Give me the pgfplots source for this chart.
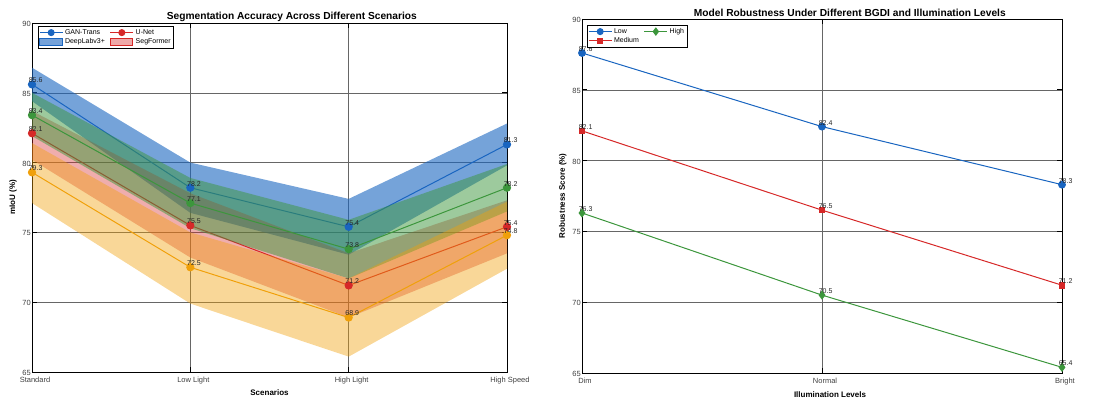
\documentclass[border=0pt]{standalone}
\usepackage{fontspec}
\setmainfont{Liberation Sans}
\usepackage{pgfplots}
\pgfplotsset{compat=1.18}
\definecolor{cB}{RGB}{25,101,192}
\definecolor{cR}{RGB}{214,40,40}
\definecolor{cG}{RGB}{60,150,60}
\definecolor{cO}{RGB}{240,160,10}
\pgfplotsset{
  myax/.style={
    scale only axis, clip=false,
    ymin=65, ymax=90, ytick={65,70,75,80,85,90},
    grid=major, major grid style={black!60, line width=0.5pt},
    axis line style={black, line width=0.8pt},
    tick align=inside, major tick length=5pt, tick style={black, line width=0.6pt},
    /pgf/number format/assume math mode=true,
    tick label style={font=\fontsize{7.5}{9}\selectfont, text=black!75},
    yticklabel style={anchor=east, inner sep=1pt, yshift=-1pt},
    xticklabel style={anchor=north, inner sep=1pt, yshift=-4pt, xshift=3pt},
    title style={font=\bfseries\fontsize{10.2}{11}\selectfont, anchor=center, yshift=0pt},
    every axis y label/.style={at={(axis description cs:-0.04,0.5)}, rotate=90, anchor=center, font=\bfseries\fontsize{8}{9}\selectfont},
    every axis x label/.style={at={(axis description cs:0.5,-0.06)}, anchor=center, font=\bfseries\fontsize{8}{9}\selectfont},
    legend cell align=left,
    legend style={draw=black, line width=0.6pt, fill=white, inner sep=1pt, font=\fontsize{7}{8}\selectfont, row sep=-1.5pt, /tikz/every even column/.append style={column sep=3pt}},
    legend image code/.code={\draw[mark repeat=2,mark phase=2,##1] plot coordinates {(0cm,0cm) (0.4cm,0cm) (0.8cm,0cm)};},
    nodes near coords={\pgfmathprintnumber[fixed,fixed zerofill,precision=1]{\pgfplotspointmeta}},
    every node near coord/.append style={anchor=south west, inner sep=0pt, xshift=-3.7pt, yshift=1pt, font=\fontsize{7}{8}\selectfont, text=black!85},
  },
  bluepatch/.style={legend image code/.code={\fill[cB,fill opacity=0.6] (0cm,-0.12cm) rectangle (0.78cm,0.12cm);}},
  pinkpatch/.style={legend image code/.code={\fill[cR,fill opacity=0.4] (0cm,-0.12cm) rectangle (0.78cm,0.12cm);}},
}
\begin{document}
\begin{tikzpicture}
\useasboundingbox (0pt,0pt) rectangle (1111pt,401pt);
% ---------------- left axis
\begin{axis}[myax, at={(32pt,29pt)}, anchor=south west, width=475pt, height=349pt,
  xmin=0, xmax=3, xtick={0,1,2,3}, xticklabels={Standard,Low Light,High Light,High Speed},
  title={Segmentation Accuracy Across Different Scenarios},
  title style={at={(axis description cs:0.547,1)}},
  xlabel={Scenarios}, ylabel={mIoU (\%)},
  legend columns=2,
  legend style={at={(axis description cs:0.0126,0.991)}, anchor=north west},
]
\addlegendimage{cB, line width=1pt, mark=*, mark size=3pt}
\addlegendentry{GAN-Trans}
\addlegendimage{cR, line width=1pt, mark=*, mark size=3pt}
\addlegendentry{U-Net}
\addlegendimage{bluepatch}
\addlegendentry{DeepLabv3+}
\addlegendimage{pinkpatch}
\addlegendentry{SegFormer}
% blue: band then line
\addplot[forget plot, draw=none, fill=cB, fill opacity=0.6, nodes near coords={}] coordinates {(0,86.8) (1,80.0) (2,77.4) (3,82.8) (3,79.8) (2,73.4) (1,76.4) (0,84.4)} -- cycle;
\addplot[forget plot, cB, line width=1pt, mark=*, mark size=3.6pt] coordinates {(0,85.6) (1,78.2) (2,75.4) (3,81.3)};
% red
\addplot[forget plot, draw=none, fill=cR, fill opacity=0.38, nodes near coords={}] coordinates {(0,83.7) (1,77.8) (2,73.5) (3,77.3) (3,73.5) (2,68.9) (1,73.2) (0,80.2)} -- cycle;
\addplot[forget plot, cR, line width=1pt, mark=*, mark size=3.6pt] coordinates {(0,82.1) (1,75.5) (2,71.2) (3,75.4)};
% green
\addplot[forget plot, draw=none, fill=cG, fill opacity=0.5, nodes near coords={}] coordinates {(0,85.0) (1,78.9) (2,75.9) (3,79.9) (3,76.5) (2,71.7) (1,75.3) (0,81.9)} -- cycle;
\addplot[forget plot, cG, line width=1pt, mark=*, mark size=3.6pt] coordinates {(0,83.4) (1,77.1) (2,73.8) (3,78.2)};
% orange
\addplot[forget plot, draw=none, fill=cO, fill opacity=0.42, nodes near coords={}] coordinates {(0,81.4) (1,75.0) (2,71.7) (3,77.2) (3,72.4) (2,66.1) (1,69.9) (0,77.1)} -- cycle;
\addplot[forget plot, cO, line width=1pt, mark=*, mark size=3.6pt] coordinates {(0,79.3) (1,72.5) (2,68.9) (3,74.8)};
\end{axis}
% ---------------- right axis
\begin{axis}[myax, at={(582pt,28pt)}, anchor=south west, width=480pt, height=354pt,
  xmin=0, xmax=2, xtick={0,1,2}, xticklabels={Dim,Normal,Bright},
  title={Model Robustness Under Different BGDI and Illumination Levels},
  title style={at={(axis description cs:0.558,1)}},
  xlabel={Illumination Levels}, ylabel={Robustness Score (\%)},
  every axis x label/.append style={xshift=8pt},
  legend columns=2,
  legend style={at={(axis description cs:0.0104,0.983)}, anchor=north west},
]
\addlegendimage{cB, line width=1pt, mark=*, mark size=3pt}
\addlegendentry{Low}
\addlegendimage{cG, line width=1pt, mark=diamond*, mark size=3.5pt}
\addlegendentry{High}
\addlegendimage{cR, line width=1pt, mark=square*, mark size=2.6pt}
\addlegendentry{Medium}
\addplot[forget plot, cB, line width=1pt, mark=*, mark size=3.4pt] coordinates {(0,87.6) (1,82.4) (2,78.3)};
\addplot[forget plot, cR, line width=1pt, mark=square*, mark size=2.8pt] coordinates {(0,82.1) (1,76.5) (2,71.2)};
\addplot[forget plot, cG, line width=1pt, mark=diamond*, mark size=3.8pt] coordinates {(0,76.3) (1,70.5) (2,65.4)};
\end{axis}
\end{tikzpicture}
\end{document}
